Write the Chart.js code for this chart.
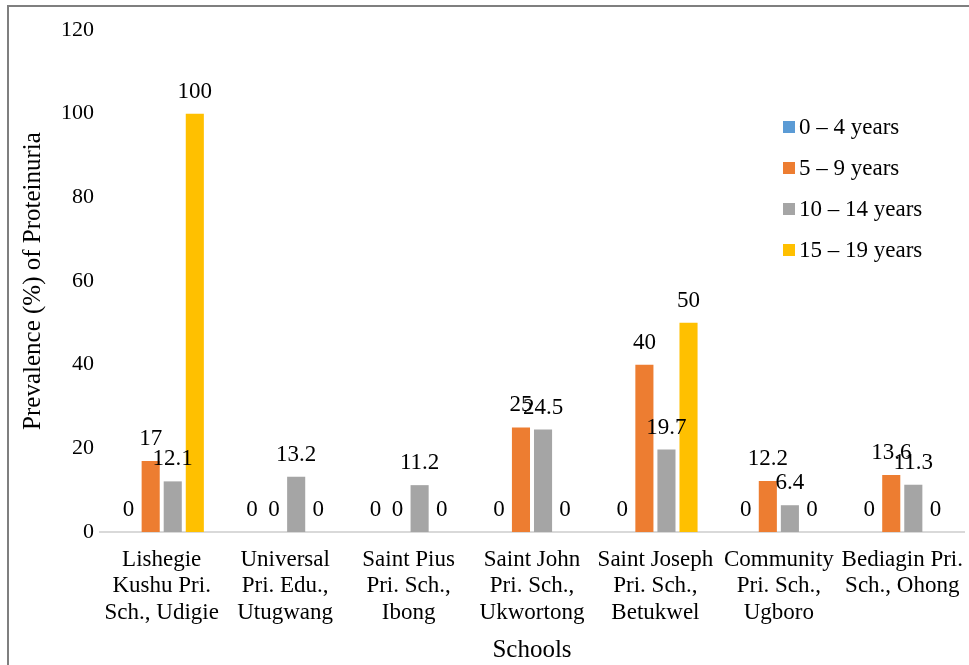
<!DOCTYPE html>
<html>
<head>
<meta charset="utf-8">
<script src="https://cdn.jsdelivr.net/npm/chart.js@4/dist/chart.umd.min.js"></script>
<style>
    html, body { margin: 0; padding: 0; background: #fff; }
    canvas { display: block; }
</style>
</head>
<body>
<canvas id="chart" width="969" height="665"></canvas>
<script>
// Chart data
const schools = [
    ['Lishegie', 'Kushu Pri.', 'Sch., Udigie'],
    ['Universal', 'Pri. Edu.,', 'Utugwang'],
    ['Saint Pius', 'Pri. Sch.,', 'Ibong'],
    ['Saint John', 'Pri. Sch.,', 'Ukwortong'],
    ['Saint Joseph', 'Pri. Sch.,', 'Betukwel'],
    ['Community', 'Pri. Sch.,', 'Ugboro'],
    ['Bediagin Pri.', 'Sch., Ohong']
];
const ageGroups = ['0 \u2013 4 years', '5 \u2013 9 years', '10 \u2013 14 years', '15 \u2013 19 years'];
const age0to4 = [0, 0, 0, 0, 0, 0, 0];
const age5to9 = [17, 0, 0, 25, 40, 12.2, 13.6];
const age10to14 = [12.1, 13.2, 11.2, 24.5, 19.7, 6.4, 11.3];
const age15to19 = [100, 0, 0, 0, 50, 0, 0];
const yTicks = [0, 20, 40, 60, 80, 100, 120];

const colors = ['#5B9BD5', '#ED7D31', '#A5A5A5', '#FFC000'];
const FONT = '"Liberation Serif", "Times New Roman", serif';

// Draw the value above every bar, zeros included
const valueLabels = {
    id: 'valueLabels',
    afterDatasetsDraw(chart) {
        const ctx = chart.ctx;
        ctx.save();
        ctx.font = '23px ' + FONT;
        ctx.fillStyle = '#000';
        ctx.textAlign = 'center';
        ctx.textBaseline = 'alphabetic';
        chart.data.datasets.forEach((ds, i) => {
            chart.getDatasetMeta(i).data.forEach((bar, j) => {
                ctx.fillText(String(ds.data[j]), bar.x, bar.y - 16);
            });
        });
        ctx.restore();
    }
};

// Legend sits inside the plot, upper right
const insideLegend = {
    id: 'insideLegend',
    afterDraw(chart) {
        const ctx = chart.ctx;
        const x = chart.chartArea.right - 181;
        const y0 = 127;
        ctx.save();
        ctx.font = '23px ' + FONT;
        ctx.textBaseline = 'middle';
        ctx.textAlign = 'left';
        chart.data.datasets.forEach((ds, i) => {
            const y = y0 + i * 41;
            ctx.fillStyle = ds.backgroundColor;
            ctx.fillRect(x, y - 6, 12, 12);
            ctx.fillStyle = '#000';
            ctx.fillText(ds.label, x + 16, y + 1);
        });
        ctx.restore();
    }
};

// Frame lines on the top and left edge
const frame = {
    id: 'frame',
    beforeDraw(chart) {
        const ctx = chart.ctx;
        ctx.save();
        ctx.fillStyle = '#fff';
        ctx.fillRect(0, 0, chart.width, chart.height);
        ctx.strokeStyle = '#7f7f7f';
        ctx.lineWidth = 2;
        ctx.beginPath();
        ctx.moveTo(8, chart.height);
        ctx.lineTo(8, 6);
        ctx.lineTo(chart.width, 6);
        ctx.stroke();
        ctx.restore();
    }
};

new Chart(document.getElementById('chart'), {
    type: 'bar',
    data: {
        labels: schools,
        datasets: [
            { label: ageGroups[0], data: age0to4, backgroundColor: colors[0] },
            { label: ageGroups[1], data: age5to9, backgroundColor: colors[1] },
            { label: ageGroups[2], data: age10to14, backgroundColor: colors[2] },
            { label: ageGroups[3], data: age15to19, backgroundColor: colors[3] }
        ]
    },
    options: {
        responsive: false,
        animation: false,
        devicePixelRatio: 1,
        layout: {
            padding: { top: 30, right: 5, bottom: 0, left: 0 }
        },
        datasets: {
            bar: {
                categoryPercentage: 0.715,
                barPercentage: 0.82
            }
        },
        plugins: {
            legend: { display: false },
            tooltip: { enabled: false }
        },
        scales: {
            x: {
                grid: { display: false, drawTicks: false },
                border: { display: true, color: '#d9d9d9', width: 2 },
                ticks: {
                    color: '#000',
                    font: { family: FONT, size: 23, lineHeight: 1.17 },
                    padding: 14,
                    maxRotation: 0,
                    autoSkip: false
                },
                title: {
                    display: true,
                    text: 'Schools',
                    color: '#000',
                    font: { family: FONT, size: 25 },
                    padding: { top: 0, bottom: 0 }
                },
                afterFit(scale) {
                    scale.height = 133;
                    // labels may spill past the plot edges, as in the original
                    scale.paddingLeft = 0;
                    scale.paddingRight = 0;
                }
            },
            y: {
                min: 0,
                max: 120,
                grid: { display: false, drawTicks: false },
                border: { display: false },
                afterBuildTicks(scale) {
                    scale.ticks = yTicks.map(v => ({ value: v }));
                },
                ticks: {
                    color: '#000',
                    font: { family: FONT, size: 22 },
                    padding: 6
                },
                title: {
                    display: true,
                    text: 'Prevalence (%) of Proteinuria',
                    color: '#000',
                    font: { family: FONT, size: 25 },
                    padding: { top: 18, bottom: 0 }
                },
                afterFit(scale) { scale.width = 100; }
            }
        }
    },
    plugins: [frame, valueLabels, insideLegend]
});
</script>
</body>
</html>
